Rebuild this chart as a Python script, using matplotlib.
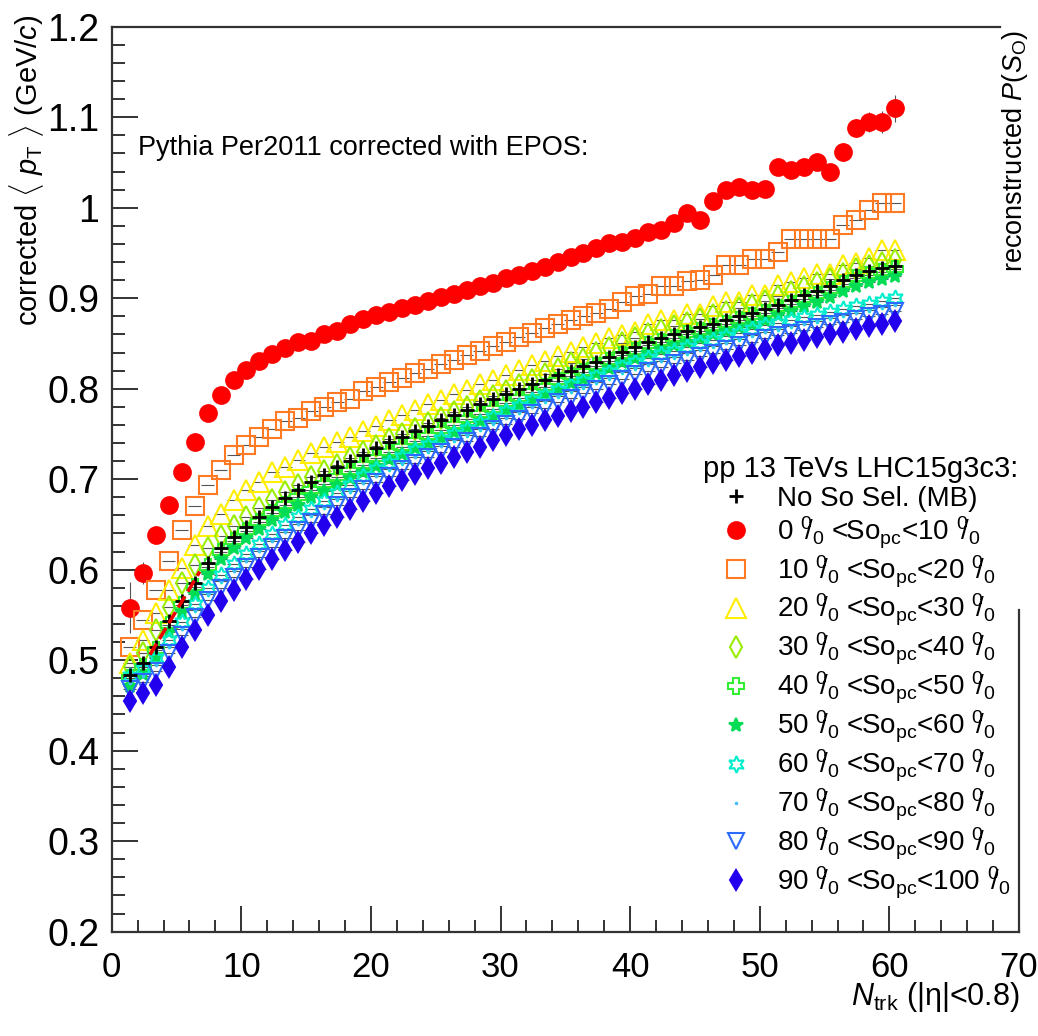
import matplotlib
matplotlib.use('Agg')
import matplotlib.pyplot as plt
import numpy as np
from matplotlib.ticker import MultipleLocator, FuncFormatter

plt.rcParams['font.family'] = ['Liberation Sans', 'DejaVu Sans']
plt.rcParams['mathtext.fontset'] = 'custom'
plt.rcParams['mathtext.rm'] = 'Liberation Sans'
plt.rcParams['mathtext.it'] = 'Liberation Sans:italic'

# Ntrk bin positions
ntrk = np.arange(1, 61) + 0.4

# corrected <pT> per spherocity class
mb = [0.484, 0.497, 0.515, 0.543, 0.565, 0.585, 0.607, 0.624, 0.636, 0.647,
      0.658, 0.669, 0.679, 0.688, 0.697, 0.705, 0.713, 0.720, 0.727, 0.734,
      0.741, 0.747, 0.753, 0.759, 0.765, 0.771, 0.777, 0.783, 0.789, 0.794,
      0.800, 0.805, 0.810, 0.815, 0.820, 0.825, 0.830, 0.835, 0.841, 0.846,
      0.852, 0.856, 0.860, 0.864, 0.868, 0.872, 0.876, 0.880, 0.884, 0.888,
      0.893, 0.898, 0.903, 0.908, 0.913, 0.920, 0.926, 0.930, 0.933, 0.936]
so_0_10 = [0.558, 0.596, 0.638, 0.671, 0.708, 0.741, 0.773, 0.793, 0.810, 0.821,
           0.831, 0.838, 0.845, 0.852, 0.853, 0.861, 0.864, 0.872, 0.877, 0.882,
           0.885, 0.889, 0.893, 0.897, 0.901, 0.905, 0.909, 0.913, 0.917, 0.922,
           0.926, 0.930, 0.935, 0.940, 0.945, 0.950, 0.955, 0.961, 0.962, 0.966,
           0.973, 0.975, 0.983, 0.994, 0.986, 1.007, 1.020, 1.023, 1.020, 1.021,
           1.045, 1.042, 1.045, 1.051, 1.039, 1.062, 1.088, 1.095, 1.095, 1.110]
so_0_10_err = [0.028, 0.012, 0.008, 0.007, 0.006, 0.006, 0.005, 0.005, 0.005, 0.005,
               0.004, 0.004, 0.004, 0.004, 0.004, 0.004, 0.004, 0.004, 0.004, 0.004,
               0.004, 0.004, 0.004, 0.004, 0.004, 0.004, 0.004, 0.004, 0.004, 0.004,
               0.004, 0.004, 0.004, 0.004, 0.004, 0.005, 0.005, 0.005, 0.005, 0.005,
               0.005, 0.005, 0.006, 0.006, 0.006, 0.006, 0.007, 0.007, 0.007, 0.007,
               0.008, 0.008, 0.008, 0.009, 0.009, 0.010, 0.010, 0.011, 0.012, 0.015]
so_10_20 = [0.515, 0.544, 0.578, 0.610, 0.644, 0.670, 0.694, 0.710, 0.727, 0.738,
            0.747, 0.756, 0.764, 0.768, 0.775, 0.780, 0.785, 0.789, 0.797, 0.802,
            0.807, 0.812, 0.817, 0.822, 0.827, 0.832, 0.837, 0.842, 0.847, 0.852,
            0.857, 0.862, 0.867, 0.872, 0.876, 0.880, 0.884, 0.888, 0.896, 0.902,
            0.905, 0.913, 0.913, 0.919, 0.920, 0.926, 0.937, 0.937, 0.943, 0.943,
            0.951, 0.965, 0.965, 0.965, 0.965, 0.981, 0.986, 0.997, 1.005, 1.005]
so_20_30 = [0.497, 0.522, 0.552, 0.578, 0.602, 0.627, 0.648, 0.662, 0.677, 0.688,
            0.697, 0.708, 0.714, 0.721, 0.729, 0.736, 0.741, 0.747, 0.753, 0.759,
            0.765, 0.771, 0.777, 0.783, 0.788, 0.794, 0.799, 0.805, 0.810, 0.815,
            0.821, 0.826, 0.831, 0.836, 0.841, 0.846, 0.851, 0.856, 0.859, 0.863,
            0.872, 0.876, 0.876, 0.883, 0.883, 0.891, 0.896, 0.896, 0.904, 0.904,
            0.915, 0.918, 0.922, 0.927, 0.927, 0.937, 0.939, 0.944, 0.953, 0.953]
so_30_40 = [0.493, 0.508, 0.533, 0.559, 0.585, 0.605, 0.624, 0.637, 0.648, 0.658,
            0.668, 0.677, 0.686, 0.694, 0.702, 0.709, 0.716, 0.723, 0.730, 0.737,
            0.744, 0.750, 0.756, 0.762, 0.768, 0.774, 0.780, 0.786, 0.792, 0.798,
            0.804, 0.810, 0.816, 0.822, 0.828, 0.833, 0.839, 0.845, 0.851, 0.856,
            0.861, 0.865, 0.869, 0.873, 0.877, 0.881, 0.885, 0.889, 0.893, 0.897,
            0.902, 0.907, 0.912, 0.917, 0.921, 0.927, 0.932, 0.936, 0.939, 0.942]
so_40_50 = [0.480, 0.493, 0.511, 0.539, 0.561, 0.581, 0.603, 0.620, 0.632, 0.643,
            0.653, 0.663, 0.672, 0.680, 0.688, 0.695, 0.702, 0.709, 0.716, 0.723,
            0.730, 0.736, 0.742, 0.748, 0.754, 0.760, 0.766, 0.772, 0.778, 0.784,
            0.790, 0.796, 0.802, 0.808, 0.814, 0.819, 0.825, 0.831, 0.837, 0.842,
            0.848, 0.852, 0.856, 0.860, 0.864, 0.868, 0.872, 0.876, 0.880, 0.884,
            0.889, 0.894, 0.899, 0.904, 0.909, 0.916, 0.922, 0.926, 0.929, 0.932]
so_50_60 = [0.472, 0.485, 0.503, 0.531, 0.553, 0.573, 0.595, 0.612, 0.624, 0.635,
            0.645, 0.655, 0.664, 0.672, 0.680, 0.687, 0.694, 0.701, 0.708, 0.715,
            0.722, 0.728, 0.734, 0.740, 0.746, 0.752, 0.758, 0.764, 0.770, 0.776,
            0.782, 0.788, 0.794, 0.800, 0.806, 0.811, 0.817, 0.823, 0.829, 0.834,
            0.840, 0.844, 0.848, 0.852, 0.856, 0.860, 0.864, 0.868, 0.872, 0.876,
            0.881, 0.886, 0.891, 0.896, 0.901, 0.908, 0.914, 0.918, 0.921, 0.924]
so_60_70 = [0.482, 0.490, 0.502, 0.522, 0.542, 0.562, 0.580, 0.594, 0.606, 0.617,
            0.628, 0.639, 0.649, 0.658, 0.667, 0.676, 0.685, 0.694, 0.703, 0.711,
            0.718, 0.725, 0.732, 0.738, 0.744, 0.750, 0.756, 0.762, 0.769, 0.775,
            0.781, 0.787, 0.793, 0.799, 0.804, 0.809, 0.814, 0.819, 0.825, 0.830,
            0.834, 0.838, 0.842, 0.846, 0.850, 0.854, 0.858, 0.862, 0.866, 0.870,
            0.873, 0.876, 0.879, 0.882, 0.885, 0.888, 0.891, 0.894, 0.897, 0.900]
so_70_80 = [0.475, 0.483, 0.495, 0.515, 0.535, 0.555, 0.573, 0.587, 0.599, 0.610,
            0.621, 0.632, 0.642, 0.651, 0.660, 0.669, 0.678, 0.687, 0.696, 0.704,
            0.711, 0.718, 0.725, 0.731, 0.737, 0.743, 0.749, 0.755, 0.762, 0.768,
            0.774, 0.780, 0.786, 0.792, 0.797, 0.802, 0.807, 0.812, 0.818, 0.823,
            0.827, 0.831, 0.835, 0.839, 0.843, 0.847, 0.851, 0.855, 0.859, 0.863,
            0.866, 0.869, 0.872, 0.875, 0.878, 0.881, 0.884, 0.887, 0.890, 0.893]
so_80_90 = [0.468, 0.476, 0.488, 0.508, 0.528, 0.548, 0.566, 0.580, 0.592, 0.603,
            0.614, 0.625, 0.635, 0.644, 0.653, 0.662, 0.671, 0.680, 0.689, 0.697,
            0.704, 0.711, 0.718, 0.724, 0.730, 0.736, 0.742, 0.748, 0.755, 0.761,
            0.767, 0.773, 0.779, 0.785, 0.790, 0.795, 0.800, 0.805, 0.811, 0.816,
            0.820, 0.824, 0.828, 0.832, 0.836, 0.840, 0.844, 0.848, 0.852, 0.856,
            0.859, 0.862, 0.865, 0.868, 0.871, 0.874, 0.877, 0.880, 0.883, 0.886]
so_90_100 = [0.455, 0.464, 0.473, 0.493, 0.515, 0.533, 0.550, 0.565, 0.578, 0.590,
             0.601, 0.612, 0.622, 0.631, 0.640, 0.649, 0.658, 0.667, 0.676, 0.685,
             0.692, 0.699, 0.706, 0.712, 0.718, 0.724, 0.730, 0.736, 0.743, 0.749,
             0.755, 0.760, 0.765, 0.770, 0.775, 0.780, 0.785, 0.790, 0.795, 0.800,
             0.805, 0.810, 0.815, 0.820, 0.824, 0.828, 0.832, 0.836, 0.840, 0.844,
             0.848, 0.851, 0.854, 0.857, 0.860, 0.863, 0.866, 0.869, 0.872, 0.875]

# short red fit segment on the MB points
fit_x = [2.95, 6.8]
fit_y = [0.506, 0.598]

pct = r'$^{0}\!\!/_{0}$'
labels = ['No So Sel. (MB)'] + [
    f'{lo} {pct} <So$_{{\\rm pc}}$<{hi} {pct}'
    for lo, hi in [(0, 10), (10, 20), (20, 30), (30, 40), (40, 50),
                   (50, 60), (60, 70), (70, 80), (80, 90), (90, 100)]]

fig = plt.figure(figsize=(10.38, 10.36), dpi=100)
ax = fig.add_axes([0.1076, 0.1007, 0.8741, 0.8735])

styles = [
    # data, marker, color, size, filled
    (so_0_10, 'o', '#ff0000', 12, True),
    (so_10_20, 's', '#ff7a22', 13, False),
    (so_20_30, '^', '#ffee00', 14, False),
    (so_30_40, 'd', '#99ee00', 11, False),
    (so_40_50, 'P', '#33ee33', 11, False),
    (so_50_60, '*', '#00dd55', 10, True),
    (so_60_70, (6, 1, 0), '#00eecc', 12, False),
    (so_70_80, '.', '#44bbff', 2, True),
    (so_80_90, 'v', '#2a6aff', 12, False),
    (so_90_100, 'd', '#2200ee', 10, True),
]

handles = {}
for i, (vals, mk, col, ms, filled) in enumerate(styles):
    yerr = so_0_10_err if i == 0 else None
    ax.errorbar(ntrk, vals, xerr=0.5, yerr=yerr, fmt='none',
                ecolor='#555555', elinewidth=0.8, capsize=0, zorder=2)
    pts, = ax.plot(ntrk, vals, ls='none', marker=mk, color=col, ms=ms,
                   mew=1.5, mfc=col if filled else 'none', zorder=3 + i * 0.1)
    handles[i + 1] = pts

ax.errorbar(ntrk, mb, xerr=0.5, fmt='none', ecolor='#555555',
            elinewidth=0.8, capsize=0, zorder=2)
h_mb, = ax.plot(ntrk, mb, ls='none', marker='+', color='black', ms=10,
                mew=2, zorder=5)
handles[0] = h_mb
ax.plot(fit_x, fit_y, color='#ee0000', ls='--', lw=2.5, zorder=6)

ax.set_xlim(0, 70)
ax.set_ylim(0.2, 1.2)
ax.xaxis.set_major_locator(MultipleLocator(10))
ax.xaxis.set_minor_locator(MultipleLocator(2))
ax.yaxis.set_major_locator(MultipleLocator(0.1))
ax.yaxis.set_minor_locator(MultipleLocator(0.02))
ax.yaxis.set_major_formatter(FuncFormatter(lambda v, p: f'{v:g}'))

ax.tick_params(which='both', direction='in', color='#333333', width=1.4,
               top=False, right=False)
ax.tick_params(which='major', length=19)
ax.tick_params(which='minor', length=9)
ax.tick_params(axis='y', which='major', labelsize=27, pad=9)
ax.tick_params(axis='x', which='major', labelsize=25, pad=14)

for s in ax.spines.values():
    s.set_linewidth(1.6)
    s.set_color('#333333')
ax.spines['top'].set_bounds(0, 68.5)
ax.spines['right'].set_bounds(0.2, 0.555)

fig.text(27 / 1038, 1 - 15 / 1036,
         r'corrected $\langle$ $p_{\rm T}$ $\rangle$ (GeV/$c$)',
         rotation=90, ha='center', va='top', fontsize=21)
fig.text(1020 / 1038, 1 - 1005 / 1036, r'$N_{\rm trk}$ (|η|<0.8)',
         ha='right', va='baseline', fontsize=22)
fig.text(1015 / 1038, 1 - 30 / 1036, r'reconstructed $P$($S_{\rm O}$)',
         rotation=90, ha='center', va='top', fontsize=19.5)
fig.text(138 / 1038, 1 - 155 / 1036, 'Pythia Per2011 corrected with EPOS:',
         ha='left', va='baseline', fontsize=19.5)

leg = ax.legend([handles[i] for i in range(11)], labels,
                title='pp 13 TeVs LHC15g3c3:', loc='upper left',
                bbox_to_anchor=(703 / 1038, 1 - 455 / 1036),
                bbox_transform=fig.transFigure, frameon=False,
                borderpad=0, borderaxespad=0, handlelength=2.4,
                handletextpad=0.25, labelspacing=0.1, alignment='left',
                prop={'size': 20}, title_fontsize=21)

fig.savefig('out.png', dpi=100)
